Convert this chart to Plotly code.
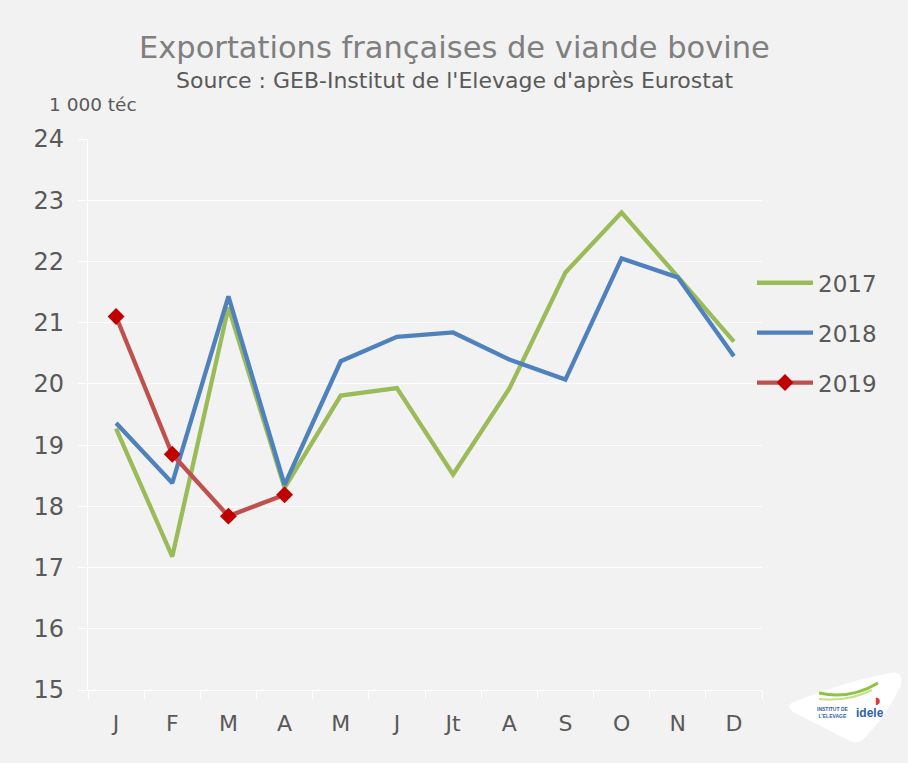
import plotly.graph_objects as go

# Monthly French beef exports, thousand tonnes carcass equivalent
months = ["J", "F", "M", "A", "M ", "J ", "Jt", "A ", "S", "O", "N", "D"]
month_labels = ["J", "F", "M", "A", "M", "J", "Jt", "A", "S", "O", "N", "D"]
exports_2017 = [19.27, 17.18, 21.25, 18.3, 19.81, 19.93, 18.52, 19.92, 21.82, 22.8, 21.75, 20.69]
exports_2018 = [19.36, 18.38, 21.43, 18.35, 20.37, 20.77, 20.84, 20.4, 20.07, 22.05, 21.74, 20.45]
exports_2019 = [21.1, 18.85, 17.84, 18.19]
y_ticks = [15, 16, 17, 18, 19, 20, 21, 22, 23, 24]

BG = "#f2f2f2"
TXT = "#595959"
FONT = "DejaVu Sans"

L, R, T, B = 88, 146, 139, 73
W, H = 908, 763

fig = go.Figure()
fig.add_trace(go.Scatter(x=months, y=exports_2017, name="2017", mode="lines",
                         legendgroup="a", line=dict(color="#9bbb59", width=4.3)))
fig.add_trace(go.Scatter(x=months, y=exports_2018, name="2018", mode="lines",
                         legendgroup="b", line=dict(color="#4f81bd", width=4.3)))
fig.add_trace(go.Scatter(x=months[:len(exports_2019)], y=exports_2019, name="2019",
                         mode="lines+markers", legendgroup="c",
                         line=dict(color="#c0504d", width=4.3),
                         marker=dict(symbol="diamond", size=13, color="#c00000")))

fig.update_layout(
    width=W, height=H,
    paper_bgcolor=BG, plot_bgcolor=BG,
    margin=dict(l=L, r=R, t=T, b=B),
    font=dict(family=FONT, color=TXT),
    showlegend=True,
    legend=dict(x=(752 - L) / (W - L - R), y=0.778, xanchor="left", yanchor="top",
                bgcolor="rgba(0,0,0,0)", itemwidth=56,
                font=dict(size=23, color=TXT, family=FONT),
                tracegroupgap=17, itemclick=False),
    xaxis=dict(type="category", categoryorder="array", categoryarray=months,
               range=[-0.5, 11.5],
               tickvals=months, ticktext=month_labels,
               tickson="boundaries", ticks="outside", ticklen=8, tickcolor="white",
               tickwidth=1.3, showline=True, linecolor="white", linewidth=1.3,
               showgrid=False, zeroline=False,
               tickfont=dict(size=22, color=TXT, family=FONT),
               ticklabelstandoff=13),
    yaxis=dict(range=[15, 24], tickvals=y_ticks, ticks="outside", ticklen=9,
               tickcolor="white", tickwidth=1.3, showline=True, linecolor="white",
               linewidth=1.3, showgrid=True, gridcolor="white", gridwidth=1.3,
               zeroline=False, tickfont=dict(size=24, color=TXT, family=FONT),
               ticklabelstandoff=9),
)


def px_x(v):
    return (v - L) / (W - L - R)


def px_y(v):
    return (H - B - v) / (H - T - B)


texts = [
    dict(text="Exportations françaises de viande bovine", px=454, py=47, size=30.5,
         color="#7f7f7f", anchor="center"),
    dict(text="Source : GEB-Institut de l'Elevage d'après Eurostat", px=454, py=81,
         size=22, color=TXT, anchor="center"),
    dict(text="1 000 téc", px=47, py=104, size=18.5, color=TXT, anchor="left"),
]
for a in texts:
    fig.add_annotation(text=a["text"], xref="paper", yref="paper",
                       x=px_x(a["px"]), y=px_y(a["py"]),
                       xanchor=a["anchor"], yanchor="middle", showarrow=False,
                       font=dict(size=a["size"], color=a["color"], family=FONT))

# Institute logo badge in the lower right corner
badge = (f"M {px_x(792):.4f},{px_y(703):.4f} "
         f"Q {px_x(850):.4f},{px_y(680):.4f} {px_x(893):.4f},{px_y(673):.4f} "
         f"Q {px_x(904):.4f},{px_y(672):.4f} {px_x(900):.4f},{px_y(686):.4f} "
         f"Q {px_x(885):.4f},{px_y(718):.4f} {px_x(862):.4f},{px_y(740):.4f} "
         f"Q {px_x(856):.4f},{px_y(745):.4f} {px_x(845):.4f},{px_y(738):.4f} "
         f"L {px_x(794):.4f},{px_y(712):.4f} "
         f"Q {px_x(786):.4f},{px_y(707):.4f} {px_x(792):.4f},{px_y(703):.4f} Z")
fig.add_shape(type="path", path=badge, xref="paper", yref="paper",
              fillcolor="white", line=dict(color="white", width=1), layer="above")
swoosh = (f"M {px_x(819):.4f},{px_y(693):.4f} Q {px_x(850):.4f},{px_y(700):.4f} "
          f"{px_x(878):.4f},{px_y(683):.4f}")
fig.add_shape(type="path", path=swoosh, xref="paper", yref="paper",
              line=dict(color="#8cc63f", width=3), layer="above")
swoosh2 = (f"M {px_x(819):.4f},{px_y(699):.4f} Q {px_x(848):.4f},{px_y(702):.4f} "
           f"{px_x(872):.4f},{px_y(690):.4f}")
fig.add_shape(type="path", path=swoosh2, xref="paper", yref="paper",
              line=dict(color="#c5e08a", width=2), layer="above")
fig.add_annotation(text="<b>idele</b>", xref="paper", yref="paper", x=px_x(870), y=px_y(713),
                   xanchor="center", yanchor="middle", showarrow=False,
                   font=dict(size=12, color="#2f5fa8", family="Liberation Sans"))
fig.add_annotation(text="<b>INSTITUT DE<br>L'ELEVAGE</b>", xref="paper", yref="paper",
                   x=px_x(832), y=px_y(712), xanchor="center", yanchor="middle",
                   showarrow=False, align="center",
                   font=dict(size=5, color="#2f5fa8", family="Liberation Sans"))
fig.add_annotation(text="<b>◗</b>", xref="paper", yref="paper", x=px_x(877), y=px_y(700),
                   xanchor="center", yanchor="middle", showarrow=False,
                   font=dict(size=10, color="#e3342f", family="DejaVu Sans"))

fig.write_html("out.html")
